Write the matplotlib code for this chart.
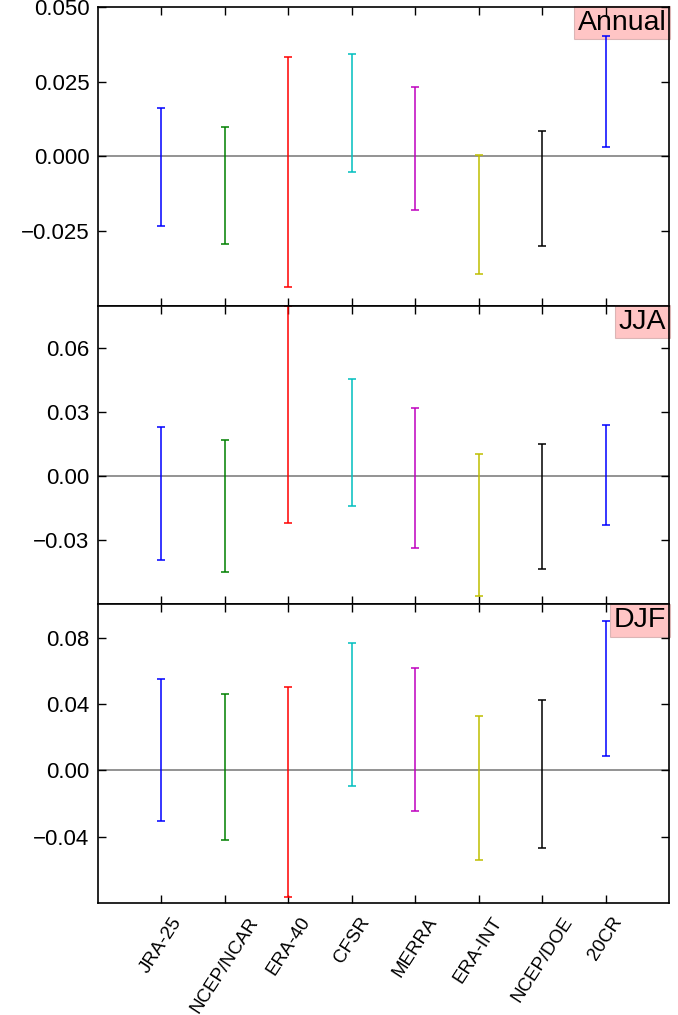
import numpy as np
import matplotlib.pyplot as plt

plt.rcParams['font.family'] = ['Liberation Sans', 'DejaVu Sans']

models = ['JRA-25', 'NCEP/NCAR', 'ERA-40', 'CFSR', 'MERRA', 'ERA-INT', 'NCEP/DOE', '20CR']
colors = ['b', 'g', 'r', 'c', 'm', 'y', 'k', 'b']

# lower / upper bounds of each range, per season
annual_lo = [-0.0234, -0.0294, -0.0436, -0.0051, -0.0181, -0.0394, -0.0301, 0.0032]
annual_hi = [0.0162, 0.0097, 0.0332, 0.0342, 0.0231, 0.0004, 0.0086, 0.0402]
jja_lo = [-0.0391, -0.0450, -0.0219, -0.0140, -0.0337, -0.0562, -0.0436, -0.0227]
jja_hi = [0.0231, 0.0170, 0.0798, 0.0455, 0.0323, 0.0104, 0.0150, 0.0242]
djf_lo = [-0.0303, -0.0419, -0.0766, -0.0092, -0.0247, -0.0540, -0.0471, 0.0086]
djf_hi = [0.0548, 0.0461, 0.0504, 0.0766, 0.0614, 0.0327, 0.0423, 0.0901]

panels = [
    ('Annual', annual_lo, annual_hi, (-0.05, 0.05), [-0.025, 0.0, 0.025, 0.05], '%.3f'),
    ('JJA', jja_lo, jja_hi, (-0.06, 0.08), [-0.03, 0.0, 0.03, 0.06], '%.2f'),
    ('DJF', djf_lo, djf_hi, (-0.08, 0.10), [-0.04, 0.0, 0.04, 0.08], '%.2f'),
]

fig, axes = plt.subplots(3, 1, sharex=True, figsize=(6.78, 10.15), dpi=100)
fig.subplots_adjust(left=0.1445, right=0.9867, top=0.993, bottom=0.1103, hspace=0)

x = np.arange(1, len(models) + 1)
for ax, (name, lo, hi, ylim, yticks, fmt) in zip(axes, panels):
    lo = np.array(lo)
    hi = np.array(hi)
    mid = (lo + hi) / 2
    ax.axhline(0, color='gray', lw=1.2, zorder=1)
    for i in range(len(models)):
        ax.errorbar(x[i], mid[i], yerr=[[mid[i] - lo[i]], [hi[i] - mid[i]]],
                    fmt='none', ecolor=colors[i], elinewidth=1.1,
                    capsize=3, capthick=1.1, zorder=2)
    ax.set_ylim(*ylim)
    ax.set_yticks(yticks)
    ax.set_yticklabels([(fmt % t).replace('-', '\u2212') for t in yticks])
    ax.set_xlim(0, 9)
    ax.tick_params(direction='in', top=True, right=True, length=6, width=1,
                   labelsize=16, pad=6)
    for s in ax.spines.values():
        s.set_linewidth(1.2)
    ax.annotate(name, xy=(1, 1), xycoords='axes fraction', xytext=(-2, -2),
                textcoords='offset points', ha='right', va='top', fontsize=20.5,
                zorder=1,
                bbox=dict(boxstyle='square,pad=0.12', facecolor=(1, 0.5, 0.5),
                          alpha=0.45, edgecolor='#b08080', lw=0.8))

axes[-1].set_xticks(x)
axes[-1].set_xticklabels(models, rotation=57, ha='center', fontsize=13.5)
axes[-1].tick_params(axis='x', pad=8)

fig.savefig('out.png', dpi=100)
